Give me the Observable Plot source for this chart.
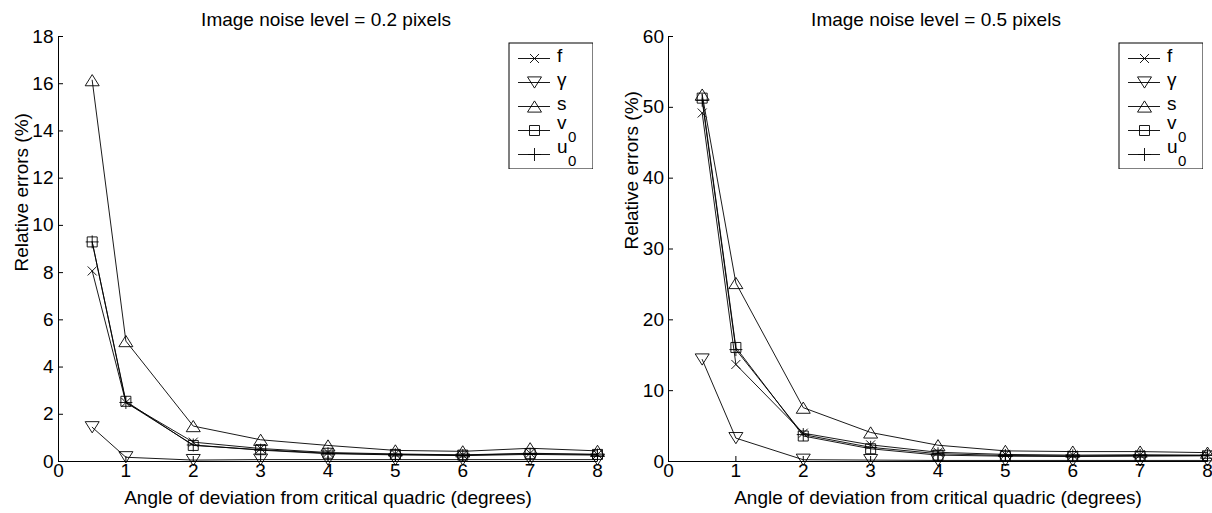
<!DOCTYPE html>
<html><head><meta charset="utf-8">
<script src="https://cdn.jsdelivr.net/npm/d3@7"></script>
<script src="https://cdn.jsdelivr.net/npm/@observablehq/plot@0.6"></script>
<style>
body{margin:0;background:#fff;}
#wrap{position:relative;width:1212px;height:513px;overflow:hidden;background:#fff;}
#wrap svg{position:absolute;top:0;}
</style></head><body><div id="wrap"></div>
<script>
// ---- data ----
const angles = [0.5, 1, 2, 3, 4, 5, 6, 7, 8];
const seriesNames = ["f", "γ", "s", "v0", "u0"];
const legendBase = ["f", "γ", "s", "v", "u"];
const legendSub = ["", "", "", "0", "0"];
const xTicks = [0, 1, 2, 3, 4, 5, 6, 7, 8];
const yTicks02 = [0, 2, 4, 6, 8, 10, 12, 14, 16, 18];
const yTicks05 = [0, 10, 20, 30, 40, 50, 60];
const titles = ["Image noise level = 0.2 pixels", "Image noise level = 0.5 pixels"];
const xLabel = "Angle of deviation from critical quadric (degrees)";
const yLabel = "Relative errors (%)";

// noise level 0.2 pixels
const f02 = [8.07, 2.5, 0.82, 0.55, 0.38, 0.32, 0.28, 0.35, 0.3];
const g02 = [1.45, 0.18, 0.06, 0.08, 0.08, 0.08, 0.08, 0.08, 0.08];
const s02 = [16.15, 5.1, 1.5, 0.92, 0.68, 0.47, 0.43, 0.56, 0.45];
const v02 = [9.3, 2.55, 0.68, 0.5, 0.35, 0.3, 0.27, 0.33, 0.3];
const u02 = [9.3, 2.5, 0.7, 0.48, 0.33, 0.28, 0.25, 0.3, 0.27];

// noise level 0.5 pixels
const f05 = [49.2, 13.7, 4.0, 2.35, 1.3, 1.0, 0.9, 0.95, 0.9];
const g05 = [14.4, 3.3, 0.25, 0.2, 0.15, 0.15, 0.15, 0.15, 0.15];
const s05 = [51.8, 25.2, 7.6, 4.1, 2.3, 1.5, 1.4, 1.4, 1.25];
const v05 = [51.3, 16.1, 3.6, 1.8, 0.9, 0.75, 0.7, 0.75, 0.8];
const u05 = [51.0, 15.8, 3.8, 2.0, 1.1, 0.85, 0.8, 0.85, 0.85];

// ---- symbols ----
const rad = i => Math.sqrt(i / Math.PI);
const symbols = {
  "f": {draw(c, s) { const r = rad(s); c.moveTo(-r, -r); c.lineTo(r, r); c.moveTo(r, -r); c.lineTo(-r, r); }},
  "γ": {draw(c, s) { const r = rad(s); c.moveTo(0, 0.8 * r); c.lineTo(r, -0.8 * r); c.lineTo(-r, -0.8 * r); c.closePath(); }},
  "s": {draw(c, s) { const r = rad(s); c.moveTo(0, -0.8 * r); c.lineTo(r, 0.8 * r); c.lineTo(-r, 0.8 * r); c.closePath(); }},
  "v0": {draw(c, s) { const r = rad(s); c.rect(-r, -r, 2 * r, 2 * r); }},
  "u0": {draw(c, s) { const r = rad(s); c.moveTo(-r, 0); c.lineTo(r, 0); c.moveTo(0, -r); c.lineTo(0, r); }}
};
const symR = {"f": 4.5, "γ": 7, "s": 7, "v0": 5, "u0": 6.5};

const FONT = "'Liberation Sans', Arial, Helvetica, sans-serif";

function rowsOf(arrays) {
  const rows = [];
  seriesNames.forEach((name, k) => {
    arrays[k].forEach((v, i) => rows.push({series: name, x: angles[i], y: v}));
  });
  return rows;
}

function makeLegend() {
  const items = seriesNames.map((n, i) => ({name: n, base: legendBase[i], sub: legendSub[i]}));
  const lg = Plot.plot({
    width: 85, height: 127, margin: 0,
    x: {domain: [0, 85], range: [0, 85], axis: null},
    y: {type: "point", domain: seriesNames, range: [15.6, 113.3], padding: 0, axis: null},
    style: {fontFamily: FONT, fontSize: "19px", background: "white", color: "black"},
    marks: [
      Plot.frame({stroke: "black", strokeWidth: 1, inset: 0.5}),
      Plot.ruleY(items, {y: "name", x1: 10, x2: 42, stroke: "black", strokeWidth: 0.9}),
      ...seriesNames.map(n => Plot.dot(items.filter(d => d.name === n), {
        x: 26, y: "name", symbol: symbols[n], r: symR[n], stroke: "black", fill: "none", strokeWidth: 0.9
      })),
      Plot.text(items.filter(d => !d.sub), {x: 48.5, y: "name", text: "base", textAnchor: "start", lineAnchor: "bottom", dy: 3, fontSize: 19}),
      Plot.text(items.filter(d => d.sub), {x: 48.5, y: "name", text: "base", textAnchor: "start", lineAnchor: "bottom", dy: -2, fontSize: 19}),
      Plot.text(items.filter(d => d.sub), {x: 59.5, y: "name", text: "sub", textAnchor: "start", lineAnchor: "bottom", dy: 11, fontSize: 15})
    ]
  });
  return lg;
}

function makePanel({left, width, mLeft, mRight, yMax, yTicks, title, data, yLabelX, yLabelY, tickPad}) {
  const rows = rowsOf(data);
  const h = 513, mTop = 36, mBottom = 52;
  const plot = Plot.plot({
    width, height: h,
    marginLeft: mLeft, marginRight: mRight, marginTop: mTop, marginBottom: mBottom,
    x: {domain: [0, 8]},
    y: {domain: [0, yMax]},
    style: {fontFamily: FONT, fontSize: "19px", background: "white", color: "black", overflow: "hidden"},
    marks: [
      Plot.axisX({ticks: xTicks, tickSize: -5, tickPadding: 6.5, label: null, tickFormat: d => String(d), fontSize: 19}),
      Plot.axisY({ticks: yTicks, tickSize: -5, tickPadding: tickPad, label: null, tickFormat: d => String(d), fontSize: 19}),
      Plot.ruleX([0], {stroke: "black", strokeWidth: 1}),
      Plot.ruleY([0], {stroke: "black", strokeWidth: 1}),
      Plot.line(rows, {x: "x", y: "y", z: "series", stroke: "black", strokeWidth: 0.9}),
      ...seriesNames.map(n => Plot.dot(rows.filter(d => d.series === n), {
        x: "x", y: "y", symbol: symbols[n], r: symR[n], stroke: "black", fill: "none", strokeWidth: 0.9
      })),
      Plot.text([title], {frameAnchor: "top", text: d => d, lineAnchor: "bottom", dy: -10.7, dx: -2, fontSize: 19}),
      Plot.text([xLabel], {frameAnchor: "bottom", text: d => d, lineAnchor: "bottom", dy: 42.5, fontSize: 19}),
      Plot.text([yLabel], {frameAnchor: "left", text: d => d, rotate: -90, lineAnchor: "middle", dx: yLabelX - mLeft, dy: yLabelY - (mTop + (h - mTop - mBottom) / 2), fontSize: 19})
    ]
  });
  plot.style.left = left + "px";
  return plot;
}

const wrap = document.getElementById("wrap");
const p1 = makePanel({left: 0, width: 606, mLeft: 58, mRight: 9, yMax: 18, yTicks: yTicks02, title: titles[0],
  data: [f02, g02, s02, v02, u02], yLabelX: 21, yLabelY: 271, tickPad: 10});
const p2 = makePanel({left: 606, width: 606, mLeft: 62, mRight: 5, yMax: 60, yTicks: yTicks05, title: titles[1],
  data: [f05, g05, s05, v05, u05], yLabelX: 25, yLabelY: 249, tickPad: 9.5});
wrap.appendChild(p1);
wrap.appendChild(p2);
const l1 = makeLegend(); l1.style.left = "507.7px"; l1.style.top = "41.7px";
const l2 = makeLegend(); l2.style.left = "1117.7px"; l2.style.top = "41.7px";
wrap.appendChild(l1);
wrap.appendChild(l2);
</script></body></html>
